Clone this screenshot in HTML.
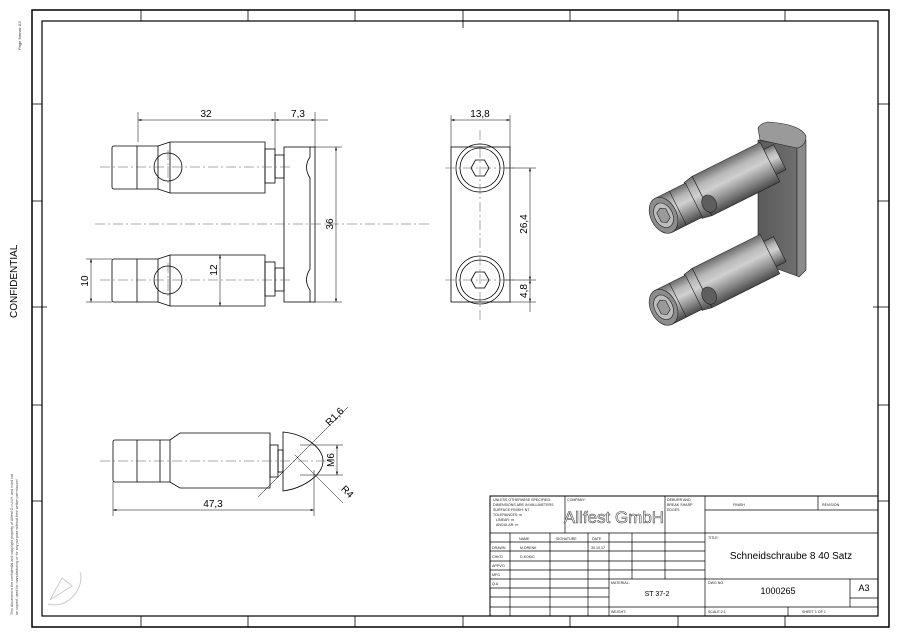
<!DOCTYPE html>
<html><head><meta charset="utf-8"><style>
html,body{margin:0;padding:0;background:#fff;}
svg{display:block;font-family:"Liberation Sans",sans-serif;}
</style></head><body>
<svg width="900" height="636" viewBox="0 0 900 636" xmlns="http://www.w3.org/2000/svg">
<defs>
<linearGradient id="cyl" x1="0" y1="0" x2="0" y2="1">
<stop offset="0" stop-color="#6d6d6d"/><stop offset="0.25" stop-color="#b8b8b8"/><stop offset="0.45" stop-color="#d0d0d0"/><stop offset="0.75" stop-color="#8a8a8a"/><stop offset="1" stop-color="#4a4a4a"/>
</linearGradient>
<linearGradient id="slab" x1="0" y1="0" x2="1" y2="0">
<stop offset="0" stop-color="#5a5a5a"/><stop offset="1" stop-color="#6e6e6e"/>
</linearGradient>
<marker id="ar" viewBox="0 0 10 6" refX="10" refY="3" markerWidth="8" markerHeight="4" orient="auto-start-reverse"><path d="M0,0 L10,3 L0,6 z" fill="#000"/></marker>
</defs>
<rect width="900" height="636" fill="#fff"/>
<!-- borders -->
<rect x="32" y="10" width="857" height="617" fill="none" stroke="#000" stroke-width="1.5"/>
<rect x="42" y="21" width="836" height="595" fill="none" stroke="#000" stroke-width="1.2"/>
<g stroke="#000" stroke-width="0.8">
<line x1="141" y1="10" x2="141" y2="21"/><line x1="248" y1="10" x2="248" y2="21"/><line x1="355" y1="10" x2="355" y2="21"/><line x1="463" y1="10" x2="463" y2="28"/><line x1="570" y1="10" x2="570" y2="21"/><line x1="678" y1="10" x2="678" y2="21"/><line x1="785" y1="10" x2="785" y2="21"/>
<line x1="141" y1="616" x2="141" y2="627"/><line x1="248" y1="616" x2="248" y2="627"/><line x1="355" y1="616" x2="355" y2="627"/><line x1="463" y1="616" x2="463" y2="627"/><line x1="570" y1="616" x2="570" y2="627"/><line x1="678" y1="616" x2="678" y2="627"/><line x1="785" y1="616" x2="785" y2="627"/>
<line x1="32" y1="104" x2="42" y2="104"/><line x1="32" y1="201" x2="42" y2="201"/><line x1="32" y1="307" x2="47" y2="307"/><line x1="32" y1="405" x2="42" y2="405"/><line x1="32" y1="501" x2="42" y2="501"/>
<line x1="878" y1="104" x2="889" y2="104"/><line x1="878" y1="201" x2="889" y2="201"/><line x1="873" y1="307" x2="889" y2="307"/><line x1="878" y1="405" x2="889" y2="405"/><line x1="878" y1="501" x2="889" y2="501"/>
</g>
<text transform="translate(21,50) rotate(-90)" font-size="4" fill="#333">Page format: A3</text>
<text transform="translate(17,318) rotate(-90)" font-size="10" fill="#000">CONFIDENTIAL</text>
<text transform="translate(13,615) rotate(-90)" font-size="3.6" fill="#444">This document is the confidential and copyright property of Allfest G.m.b.H. and must not</text>
<text transform="translate(18,615) rotate(-90)" font-size="3.6" fill="#444">be copied, used for manufacturing or for any purpose without their written permission!</text>
<g fill="none" stroke="#ccc" stroke-width="1"><path d="M50,600 L62,578 L72,586 z"/><path d="M48,604 C70,610 85,585 80,572"/></g>

<!-- FRONT VIEW -->
<g stroke="#000" stroke-width="0.8" fill="none">
<g id="bolt">
<path d="M114,146 L137,146 L137,189 L114,189 Q112,189 112,187 L112,148 Q112,146 114,146 z"/>
<path d="M137,146 L158,146 L170,142 L265,142 L265,193 L170,193 L158,189 L137,189"/>
<line x1="158" y1="146" x2="158" y2="189"/><line x1="170" y1="142" x2="170" y2="193"/>
<circle cx="168" cy="167" r="14"/>
<rect x="265" y="149" width="10" height="34"/>
<rect x="275" y="155" width="9" height="23"/>
</g>
<use href="#bolt" transform="translate(0,113)"/>
<rect x="284" y="147" width="31" height="155"/>
<path d="M310,147 L310,157 Q303,167 310,178 L310,269 Q303,280 310,290 L310,302"/>
</g>
<g stroke="#555" stroke-width="0.5" stroke-dasharray="10,3,2,3" fill="none">
<line x1="95" y1="224" x2="430" y2="224"/>
<line x1="100" y1="167" x2="290" y2="167"/><line x1="100" y1="280" x2="290" y2="280"/>
<line x1="168" y1="150" x2="168" y2="184"/><line x1="168" y1="263" x2="168" y2="297"/>
</g>
<g stroke="#000" stroke-width="0.5" fill="none">
<line x1="138" y1="112" x2="138" y2="142"/><line x1="275" y1="112" x2="275" y2="149"/><line x1="315" y1="112" x2="315" y2="147"/>
<line x1="138" y1="120" x2="275" y2="120" marker-start="url(#ar)" marker-end="url(#ar)"/>
<line x1="275" y1="120" x2="315" y2="120" marker-start="url(#ar)" marker-end="url(#ar)"/>
<line x1="315" y1="120" x2="328" y2="120"/>
<line x1="315" y1="147" x2="342" y2="147"/><line x1="315" y1="302" x2="342" y2="302"/>
<line x1="336" y1="147" x2="336" y2="302" marker-start="url(#ar)" marker-end="url(#ar)"/>
<line x1="86" y1="259" x2="112" y2="259"/><line x1="86" y1="302" x2="112" y2="302"/>
<line x1="91" y1="259" x2="91" y2="302" marker-start="url(#ar)" marker-end="url(#ar)"/>
<line x1="220" y1="255" x2="220" y2="306" marker-start="url(#ar)" marker-end="url(#ar)"/>
</g>
<g font-size="10" fill="#000" text-anchor="middle">
<text x="206" y="117">32</text><text x="298" y="117">7,3</text>
<text transform="translate(333,224) rotate(-90)">36</text>
<text transform="translate(88,281) rotate(-90)">10</text>
<text transform="translate(217,270) rotate(-90)">12</text>
</g>

<!-- SIDE VIEW -->
<g stroke="#000" stroke-width="0.8" fill="none">
<rect x="451" y="147" width="59" height="155"/>
<circle cx="480" cy="168" r="24"/><circle cx="480" cy="168" r="20"/>
<polygon points="471,168 475.5,160 484.5,160 489,168 484.5,176 475.5,176"/>
<circle cx="480" cy="280" r="24"/><circle cx="480" cy="280" r="20"/>
<polygon points="471,280 475.5,272 484.5,272 489,280 484.5,288 475.5,288"/>
</g>
<g stroke="#555" stroke-width="0.5" stroke-dasharray="10,3,2,3">
<line x1="480" y1="130" x2="480" y2="320"/>
<line x1="445" y1="168" x2="515" y2="168"/><line x1="445" y1="280" x2="515" y2="280"/>
</g>
<g stroke="#000" stroke-width="0.5" fill="none">
<line x1="451" y1="115" x2="451" y2="147"/><line x1="510" y1="115" x2="510" y2="147"/>
<line x1="451" y1="120" x2="510" y2="120" marker-start="url(#ar)" marker-end="url(#ar)"/>
<line x1="505" y1="168" x2="536" y2="168"/><line x1="505" y1="280" x2="536" y2="280"/><line x1="510" y1="302" x2="536" y2="302"/>
<line x1="530" y1="168" x2="530" y2="280" marker-start="url(#ar)" marker-end="url(#ar)"/>
<line x1="530" y1="280" x2="530" y2="302" marker-start="url(#ar)" marker-end="url(#ar)"/>
<line x1="530" y1="302" x2="530" y2="312"/>
</g>
<g font-size="10" fill="#000" text-anchor="middle">
<text x="480" y="117">13,8</text>
<text transform="translate(527,224) rotate(-90)">26,4</text>
<text transform="translate(527,291) rotate(-90)">4,8</text>
</g>

<!-- BOTTOM VIEW -->
<g stroke="#000" stroke-width="0.8" fill="none">
<path d="M115,440 L160,440 L160,482 L115,482 Q113,482 113,480 L113,442 Q113,440 115,440 z"/>
<line x1="137" y1="440" x2="137" y2="482"/>
<path d="M160,440 L170,440 L180,433 L270,433 L270,488 L180,488 L170,482 L160,482"/>
<line x1="170" y1="440" x2="170" y2="482"/>
<rect x="270" y="445" width="8" height="32"/>
<rect x="278" y="450" width="5" height="22"/>
<path d="M283,432 C305,434 323,448 323,461 C323,474 305,488 283,491 Z"/>
</g>
<line x1="100" y1="461" x2="335" y2="461" stroke="#555" stroke-width="0.5" stroke-dasharray="10,3,2,3"/>
<g stroke="#000" stroke-width="0.5" fill="none">
<line x1="113" y1="482" x2="113" y2="516"/><line x1="314" y1="470" x2="314" y2="516"/>
<line x1="113" y1="510" x2="314" y2="510" marker-start="url(#ar)" marker-end="url(#ar)"/>
<line x1="258" y1="497" x2="348" y2="407"/>
<line x1="295" y1="455" x2="343" y2="503"/>
<line x1="300" y1="445" x2="343" y2="445"/><line x1="300" y1="475" x2="343" y2="475"/>
<line x1="337" y1="445" x2="337" y2="475" marker-start="url(#ar)" marker-end="url(#ar)"/>
</g>
<g font-size="10" fill="#000" text-anchor="middle">
<text x="213" y="507">47,3</text>
<text transform="translate(337,419) rotate(-45)">R1,6</text>
<text transform="translate(345,494) rotate(45)">R4</text>
<text transform="translate(334,460) rotate(-90)">M6</text>
</g>

<!-- ISOMETRIC -->
<g stroke="#222" stroke-width="0.6">
<path d="M758,140 L797,147 L797,276 L758,262 Z" fill="url(#slab)"/>
<path d="M797,147 L806,140 L806,270 L799,277 L797,276 Z" fill="#8a8a8a"/>
<path d="M758,128 Q761,123 768,122 Q800,124 806,136 Q806,146 797,148 L760,140 Z" fill="#9a9a9a"/>
<g id="iso1" transform="translate(778,250) rotate(-26.6)">
<rect x="-10" y="-14" width="12" height="28" fill="url(#cyl)"/>
<rect x="-85" y="-22" width="76" height="44" fill="url(#cyl)"/>
<path d="M-95,-20 L-85,-22 L-85,22 L-95,20 Z" fill="url(#cyl)"/>
<rect x="-128" y="-19" width="34" height="38" fill="url(#cyl)"/>
<ellipse cx="-82" cy="10" rx="7" ry="9" fill="#5e5e5e"/>
<line x1="-112" y1="-19" x2="-112" y2="19"/>
<ellipse cx="-128" cy="0" rx="13" ry="19" fill="#8c8c8c"/>
<ellipse cx="-128" cy="0" rx="9" ry="13" fill="#bdbdbd"/>
<polygon points="-133,-5 -128,-8 -123,-5 -123,5 -128,8 -133,5" fill="#9a9a9a"/>
</g>
<use href="#iso1" transform="translate(0,-92)"/>
</g>

<!-- TITLE BLOCK -->
<g stroke="#000" stroke-width="0.7" fill="none">
<rect x="490" y="496" width="388" height="120" stroke-width="1"/>
<line x1="565" y1="496" x2="565" y2="533"/><line x1="665" y1="496" x2="665" y2="533"/>
<line x1="705" y1="496" x2="705" y2="616"/><line x1="818" y1="496" x2="818" y2="510"/>
<line x1="705" y1="510" x2="878" y2="510"/>
<line x1="490" y1="533" x2="878" y2="533"/>
<line x1="490" y1="542" x2="705" y2="542"/><line x1="490" y1="551" x2="705" y2="551"/><line x1="490" y1="561" x2="705" y2="561"/><line x1="490" y1="570" x2="705" y2="570"/>
<line x1="490" y1="579" x2="878" y2="579"/>
<line x1="490" y1="588" x2="609" y2="588"/><line x1="490" y1="597" x2="609" y2="597"/><line x1="850" y1="598" x2="878" y2="598"/>
<line x1="490" y1="607" x2="878" y2="607"/>
<line x1="510" y1="533" x2="510" y2="616"/><line x1="550" y1="533" x2="550" y2="616"/><line x1="588" y1="533" x2="588" y2="616"/>
<line x1="609" y1="533" x2="609" y2="616"/><line x1="632" y1="533" x2="632" y2="579"/><line x1="665" y1="533" x2="665" y2="579"/>
<line x1="850" y1="579" x2="850" y2="607"/><line x1="788" y1="607" x2="788" y2="616"/>
</g>
<g font-size="3.6" fill="#222">
<text x="493" y="501">UNLESS OTHERWISE SPECIFIED:</text>
<text x="493" y="506">DIMENSIONS ARE IN MILLIMETERS</text>
<text x="493" y="511">SURFACE FINISH: N7</text>
<text x="493" y="516">TOLERANCES: m</text>
<text x="496" y="521">LINEAR: m</text>
<text x="496" y="526">ANGULAR: m</text>
<text x="567" y="501">COMPANY:</text>
<text x="667" y="501">DEBURR AND</text><text x="667" y="506">BREAK SHARP</text><text x="667" y="511">EDGES</text>
<text x="733" y="506">FINISH</text><text x="822" y="506">REVISION</text>
<text x="519" y="540">NAME</text><text x="556" y="540">SIGNATURE</text><text x="592" y="540">DATE</text>
<text x="492" y="549">DRAWN</text><text x="520" y="549">M.DRENK</text><text x="591" y="549">30.10.17</text>
<text x="492" y="558">CHK'D</text><text x="520" y="558">D.KOKIC</text>
<text x="492" y="567">APPV'D</text><text x="492" y="576">MFG</text><text x="492" y="585">Q.A</text>
<text x="708" y="539">TITLE:</text>
<text x="611" y="584">MATERIAL:</text><text x="708" y="584">DWG NO.</text>
<text x="611" y="613">WEIGHT:</text><text x="708" y="613">SCALE:2:1</text><text x="802" y="613">SHEET 1 OF 1</text>
</g>
<text x="614" y="523" font-size="17" fill="#fff" stroke="#444" stroke-width="0.6" text-anchor="middle">Allfest GmbH</text>
<text x="791" y="559" font-size="10" fill="#000" text-anchor="middle">Schneidschraube 8  40 Satz</text>
<text x="657" y="596" font-size="7" fill="#000" text-anchor="middle">ST 37-2</text>
<text x="778" y="594" font-size="9" fill="#000" text-anchor="middle">1000265</text>
<text x="864" y="591" font-size="9" fill="#000" text-anchor="middle">A3</text>
</svg>
</body></html>
